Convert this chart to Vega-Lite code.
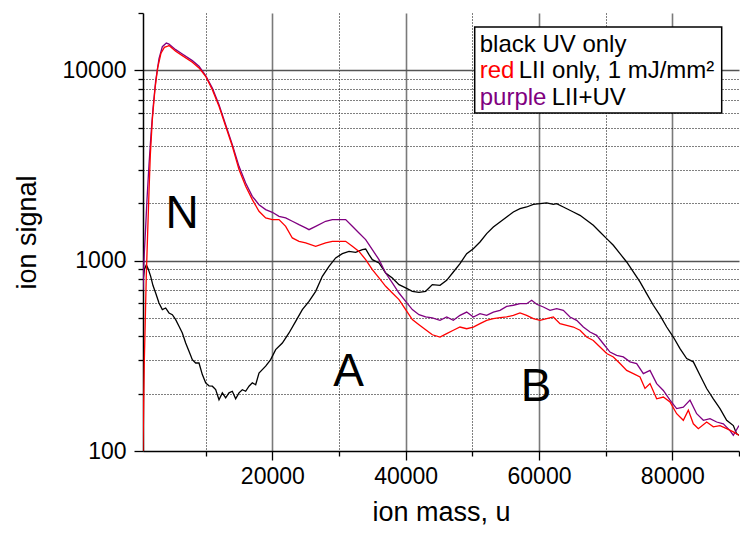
{
  "$schema": "https://vega.github.io/schema/vega-lite/v6.json",
  "width": 596,
  "height": 438,
  "autosize": {"type": "none"},
  "padding": {"left": 143, "top": 13, "right": 1, "bottom": 83},
  "background": "white",
  "config": {
    "view": {"stroke": null},
    "font": "Liberation Sans",
    "text": {"font": "Liberation Sans", "color": "#000"}
  },
  "datasets": {
    "uv": [
      {"m": 600, "s": 780}, {"m": 800, "s": 900}, {"m": 1100, "s": 950}, {"m": 1400, "s": 900},
      {"m": 1750, "s": 827}, {"m": 2100, "s": 740}, {"m": 2500, "s": 676}, {"m": 3000, "s": 599},
      {"m": 3500, "s": 553}, {"m": 4000, "s": 564}, {"m": 4500, "s": 531}, {"m": 5000, "s": 520},
      {"m": 5500, "s": 490}, {"m": 6000, "s": 452}, {"m": 6500, "s": 417}, {"m": 7000, "s": 369},
      {"m": 7500, "s": 334}, {"m": 8000, "s": 302}, {"m": 8500, "s": 290}, {"m": 9000, "s": 290},
      {"m": 9500, "s": 252}, {"m": 10000, "s": 228}, {"m": 10500, "s": 220}, {"m": 11000, "s": 219},
      {"m": 11500, "s": 210}, {"m": 12000, "s": 186}, {"m": 12500, "s": 202}, {"m": 13000, "s": 190},
      {"m": 13500, "s": 202}, {"m": 14000, "s": 206}, {"m": 14500, "s": 188}, {"m": 15000, "s": 202},
      {"m": 15500, "s": 210}, {"m": 16000, "s": 206}, {"m": 16500, "s": 219}, {"m": 17000, "s": 228},
      {"m": 17500, "s": 223}, {"m": 18000, "s": 257}, {"m": 19000, "s": 279}, {"m": 19750, "s": 302},
      {"m": 20500, "s": 341}, {"m": 21500, "s": 369}, {"m": 22500, "s": 417}, {"m": 23500, "s": 480},
      {"m": 24500, "s": 553}, {"m": 25500, "s": 611}, {"m": 26500, "s": 690}, {"m": 27500, "s": 827},
      {"m": 28500, "s": 934}, {"m": 29500, "s": 1033}, {"m": 30500, "s": 1089}, {"m": 31500, "s": 1119},
      {"m": 32500, "s": 1106}, {"m": 33500, "s": 1142}, {"m": 34000, "s": 1151}, {"m": 34500, "s": 1075},
      {"m": 35000, "s": 1012}, {"m": 36000, "s": 972}, {"m": 37000, "s": 861}, {"m": 38000, "s": 811},
      {"m": 39000, "s": 748}, {"m": 40000, "s": 719}, {"m": 41000, "s": 690}, {"m": 42000, "s": 682},
      {"m": 43000, "s": 690}, {"m": 44000, "s": 748}, {"m": 45150, "s": 742}, {"m": 46150, "s": 788},
      {"m": 47150, "s": 872}, {"m": 48150, "s": 964}, {"m": 49150, "s": 1088}, {"m": 50150, "s": 1156},
      {"m": 51150, "s": 1253}, {"m": 52150, "s": 1387}, {"m": 53150, "s": 1503}, {"m": 54150, "s": 1597},
      {"m": 55150, "s": 1696}, {"m": 56150, "s": 1802}, {"m": 57150, "s": 1876}, {"m": 58150, "s": 1914},
      {"m": 59150, "s": 1977}, {"m": 60150, "s": 1993}, {"m": 61150, "s": 2009}, {"m": 62150, "s": 1977},
      {"m": 62650, "s": 1993}, {"m": 63650, "s": 1914}, {"m": 65150, "s": 1802}, {"m": 66150, "s": 1730},
      {"m": 67150, "s": 1630}, {"m": 68150, "s": 1533}, {"m": 69150, "s": 1415}, {"m": 70150, "s": 1305},
      {"m": 71150, "s": 1204}, {"m": 72150, "s": 1088}, {"m": 73150, "s": 984}, {"m": 74150, "s": 872},
      {"m": 75150, "s": 773}, {"m": 76150, "s": 671}, {"m": 77150, "s": 583}, {"m": 78150, "s": 516},
      {"m": 79150, "s": 448}, {"m": 80150, "s": 397}, {"m": 81150, "s": 345}, {"m": 82150, "s": 306},
      {"m": 83150, "s": 294}, {"m": 84150, "s": 250}, {"m": 85150, "s": 213}, {"m": 86150, "s": 188},
      {"m": 87150, "s": 167}, {"m": 88150, "s": 145}, {"m": 89150, "s": 136}, {"m": 89650, "s": 123},
      {"m": 90000, "s": 121}
    ],
    "lii": [
      {"m": 600, "s": 100}, {"m": 700, "s": 180}, {"m": 800, "s": 300}, {"m": 900, "s": 420},
      {"m": 1000, "s": 600}, {"m": 1100, "s": 850}, {"m": 1300, "s": 1400}, {"m": 1500, "s": 2300},
      {"m": 1700, "s": 3600}, {"m": 2000, "s": 5500}, {"m": 2400, "s": 8000}, {"m": 2800, "s": 10300},
      {"m": 3300, "s": 12300}, {"m": 3800, "s": 13200}, {"m": 4300, "s": 13400}, {"m": 4500, "s": 13490},
      {"m": 5500, "s": 12585}, {"m": 6500, "s": 11940}, {"m": 8000, "s": 11020}, {"m": 9000, "s": 10290},
      {"m": 10000, "s": 9300}, {"m": 11000, "s": 7910}, {"m": 12000, "s": 6470}, {"m": 13000, "s": 5080},
      {"m": 14000, "s": 3990}, {"m": 15000, "s": 3010}, {"m": 16000, "s": 2460}, {"m": 17000, "s": 2092},
      {"m": 18000, "s": 1816}, {"m": 19000, "s": 1676}, {"m": 20000, "s": 1642}, {"m": 21000, "s": 1642},
      {"m": 22000, "s": 1515}, {"m": 23000, "s": 1316}, {"m": 24000, "s": 1264}, {"m": 25000, "s": 1239},
      {"m": 26500, "s": 1189}, {"m": 28000, "s": 1239}, {"m": 29000, "s": 1264}, {"m": 30000, "s": 1264},
      {"m": 31000, "s": 1264}, {"m": 32000, "s": 1189}, {"m": 33000, "s": 1119}, {"m": 34000, "s": 1012},
      {"m": 35000, "s": 897}, {"m": 36000, "s": 811}, {"m": 37000, "s": 733}, {"m": 38000, "s": 676},
      {"m": 39000, "s": 624}, {"m": 40000, "s": 553}, {"m": 41000, "s": 490}, {"m": 42000, "s": 461},
      {"m": 43000, "s": 434}, {"m": 44000, "s": 408}, {"m": 45150, "s": 397}, {"m": 46150, "s": 414},
      {"m": 47150, "s": 431}, {"m": 48150, "s": 448}, {"m": 49150, "s": 439}, {"m": 50150, "s": 448},
      {"m": 51150, "s": 467}, {"m": 52150, "s": 486}, {"m": 53150, "s": 496}, {"m": 54150, "s": 502},
      {"m": 55150, "s": 506}, {"m": 56150, "s": 516}, {"m": 57150, "s": 531}, {"m": 58150, "s": 516},
      {"m": 59150, "s": 496}, {"m": 60150, "s": 486}, {"m": 61150, "s": 496}, {"m": 62150, "s": 506},
      {"m": 63150, "s": 467}, {"m": 64150, "s": 457}, {"m": 65150, "s": 448}, {"m": 66150, "s": 431},
      {"m": 67150, "s": 397}, {"m": 68150, "s": 381}, {"m": 69150, "s": 352}, {"m": 70150, "s": 325},
      {"m": 71150, "s": 312}, {"m": 72150, "s": 288}, {"m": 73150, "s": 265}, {"m": 74150, "s": 255},
      {"m": 75150, "s": 245}, {"m": 75900, "s": 213}, {"m": 76650, "s": 226}, {"m": 77650, "s": 188},
      {"m": 78650, "s": 192}, {"m": 79650, "s": 181}, {"m": 80650, "s": 157}, {"m": 81650, "s": 145},
      {"m": 82400, "s": 164}, {"m": 83150, "s": 139}, {"m": 83900, "s": 131}, {"m": 85150, "s": 142},
      {"m": 86150, "s": 134}, {"m": 87150, "s": 136}, {"m": 88150, "s": 131}, {"m": 89150, "s": 126},
      {"m": 90000, "s": 121}
    ],
    "liiuv": [
      {"m": 600, "s": 700}, {"m": 700, "s": 900}, {"m": 800, "s": 1100}, {"m": 1000, "s": 1500},
      {"m": 1200, "s": 2100}, {"m": 1500, "s": 3200}, {"m": 1800, "s": 4600}, {"m": 2100, "s": 6300},
      {"m": 2500, "s": 8800}, {"m": 3000, "s": 11500}, {"m": 3500, "s": 13300}, {"m": 4100, "s": 13900},
      {"m": 4500, "s": 13740}, {"m": 5500, "s": 12840}, {"m": 6500, "s": 12180}, {"m": 8000, "s": 11240},
      {"m": 9000, "s": 10500}, {"m": 10000, "s": 9380}, {"m": 11000, "s": 8070}, {"m": 12000, "s": 6600},
      {"m": 13000, "s": 5180}, {"m": 14000, "s": 4070}, {"m": 15000, "s": 3130}, {"m": 16000, "s": 2560},
      {"m": 17000, "s": 2178}, {"m": 18000, "s": 1968}, {"m": 19000, "s": 1854}, {"m": 20000, "s": 1795},
      {"m": 21000, "s": 1710}, {"m": 22000, "s": 1676}, {"m": 23000, "s": 1610}, {"m": 24000, "s": 1545},
      {"m": 25000, "s": 1486}, {"m": 25500, "s": 1455}, {"m": 26500, "s": 1515}, {"m": 28000, "s": 1610},
      {"m": 29000, "s": 1642}, {"m": 30000, "s": 1642}, {"m": 31000, "s": 1642}, {"m": 32000, "s": 1515},
      {"m": 33000, "s": 1398}, {"m": 34000, "s": 1289}, {"m": 35000, "s": 1142}, {"m": 36000, "s": 1012},
      {"m": 37000, "s": 861}, {"m": 38000, "s": 764}, {"m": 39000, "s": 676}, {"m": 40000, "s": 611},
      {"m": 41000, "s": 553}, {"m": 42000, "s": 520}, {"m": 43000, "s": 506}, {"m": 44000, "s": 500},
      {"m": 45150, "s": 486}, {"m": 46150, "s": 506}, {"m": 47150, "s": 486}, {"m": 48150, "s": 516},
      {"m": 49150, "s": 537}, {"m": 50150, "s": 506}, {"m": 51150, "s": 527}, {"m": 52150, "s": 516},
      {"m": 53150, "s": 537}, {"m": 54150, "s": 548}, {"m": 55150, "s": 575}, {"m": 56150, "s": 583},
      {"m": 57150, "s": 594}, {"m": 58150, "s": 594}, {"m": 58900, "s": 619}, {"m": 59650, "s": 590},
      {"m": 60650, "s": 571}, {"m": 61650, "s": 548}, {"m": 62650, "s": 560}, {"m": 63650, "s": 548},
      {"m": 64650, "s": 506}, {"m": 65650, "s": 486}, {"m": 66650, "s": 448}, {"m": 67650, "s": 422},
      {"m": 68650, "s": 405}, {"m": 69650, "s": 366}, {"m": 70650, "s": 331}, {"m": 71650, "s": 318},
      {"m": 72650, "s": 312}, {"m": 73650, "s": 294}, {"m": 74650, "s": 288}, {"m": 75650, "s": 255},
      {"m": 76650, "s": 265}, {"m": 77650, "s": 226}, {"m": 78650, "s": 208}, {"m": 79650, "s": 185},
      {"m": 80650, "s": 167}, {"m": 81650, "s": 170}, {"m": 82650, "s": 185}, {"m": 83650, "s": 157},
      {"m": 84650, "s": 145}, {"m": 85650, "s": 148}, {"m": 86650, "s": 142}, {"m": 87650, "s": 139},
      {"m": 88650, "s": 128}, {"m": 89150, "s": 121}, {"m": 90000, "s": 136}
    ]
  },
  "layer": [
    {
      "data": {"name": "uv"},
      "mark": {"type": "line", "color": "#000000", "strokeWidth": 1.3, "clip": true},
      "encoding": {
        "x": {
          "field": "m", "type": "quantitative",
          "scale": {"domain": [600, 90000], "nice": false, "zero": false},
          "axis": {
            "title": "ion mass, u",
            "values": [10000, 20000, 30000, 40000, 50000, 60000, 70000, 80000, 90000],
            "format": "d",
            "labelExpr": "datum.value % 20000 === 0 ? datum.label : ''",
            "labelOverlap": false,
            "labelFlush": false,
            "labelFont": "Liberation Sans", "labelFontSize": 23, "labelColor": "#000", "labelPadding": 5,
            "titleFont": "Liberation Sans", "titleFontSize": 27, "titleFontWeight": "normal", "titleColor": "#000", "titlePadding": 11,
            "domainColor": "#000", "domainWidth": 1.5,
            "tickColor": "#000", "tickWidth": 1.3,
            "tickSize": {"condition": {"test": "datum.value % 20000 === 0", "value": 9}, "value": 5},
            "grid": true,
            "gridColor": {"condition": {"test": "datum.value % 20000 === 0", "value": "#7a7a7a"}, "value": "#000000"},
            "gridDash": {"condition": {"test": "datum.value % 20000 === 0", "value": []}, "value": [1, 2]},
            "gridWidth": {"condition": {"test": "datum.value % 20000 === 0", "value": 1.6}, "value": 1},
            "gridOpacity": {"condition": {"test": "datum.value === 90000", "value": 0}, "value": 1}
          }
        },
        "y": {
          "field": "s", "type": "quantitative",
          "scale": {"type": "log", "domain": [100, 20000], "nice": false},
          "axis": {
            "title": "ion signal",
            "values": [100, 200, 300, 400, 500, 600, 700, 800, 900, 1000, 2000, 3000, 4000, 5000, 6000, 7000, 8000, 9000, 10000, 20000],
            "format": "d",
            "labelExpr": "datum.value === 100 || datum.value === 1000 || datum.value === 10000 ? datum.label : ''",
            "labelOverlap": false,
            "labelFlush": false,
            "labelFont": "Liberation Sans", "labelFontSize": 23, "labelColor": "#000", "labelPadding": 8,
            "titleFont": "Liberation Sans", "titleFontSize": 27, "titleFontWeight": "normal", "titleColor": "#000", "titlePadding": 21,
            "domainColor": "#000", "domainWidth": 1.5,
            "tickColor": "#000", "tickWidth": 1.3,
            "tickSize": {"condition": {"test": "datum.value === 100 || datum.value === 1000 || datum.value === 10000", "value": 9}, "value": 5},
            "grid": true,
            "gridColor": {"condition": {"test": "datum.value === 1000 || datum.value === 10000", "value": "#555555"}, "value": "#000000"},
            "gridDash": {"condition": {"test": "datum.value === 1000 || datum.value === 10000", "value": []}, "value": [1, 2]},
            "gridWidth": {"condition": {"test": "datum.value === 1000 || datum.value === 10000", "value": 1.5}, "value": 1},
            "gridOpacity": {"condition": {"test": "datum.value === 100 || datum.value === 20000", "value": 0}, "value": 1}
          }
        }
      }
    },
    {
      "data": {"name": "liiuv"},
      "mark": {"type": "line", "color": "#800080", "strokeWidth": 1.3, "clip": true},
      "encoding": {
        "x": {"field": "m", "type": "quantitative"},
        "y": {"field": "s", "type": "quantitative"}
      }
    },
    {
      "data": {"name": "lii"},
      "mark": {"type": "line", "color": "#ff0000", "strokeWidth": 1.3, "clip": true},
      "encoding": {
        "x": {"field": "m", "type": "quantitative"},
        "y": {"field": "s", "type": "quantitative"}
      }
    },
    {
      "data": {"values": [{"label": "N"}]},
      "mark": {"type": "text", "fontSize": 46, "align": "center", "baseline": "alphabetic"},
      "encoding": {
        "x": {"datum": 6480, "type": "quantitative"},
        "y": {"datum": 1490, "type": "quantitative"},
        "text": {"field": "label"}
      }
    },
    {
      "data": {"values": [{"label": "A"}]},
      "mark": {"type": "text", "fontSize": 46, "align": "center", "baseline": "alphabetic"},
      "encoding": {
        "x": {"datum": 31455, "type": "quantitative"},
        "y": {"datum": 219, "type": "quantitative"},
        "text": {"field": "label"}
      }
    },
    {
      "data": {"values": [{"label": "B"}]},
      "mark": {"type": "text", "fontSize": 46, "align": "center", "baseline": "alphabetic"},
      "encoding": {
        "x": {"datum": 59580, "type": "quantitative"},
        "y": {"datum": 183, "type": "quantitative"},
        "text": {"field": "label"}
      }
    },
    {
      "data": {"values": [{"box": "legend"}]},
      "mark": {"type": "rect", "fill": "white", "stroke": "#000", "strokeWidth": 1.5},
      "encoding": {
        "x": {"datum": 50355, "type": "quantitative"},
        "x2": {"datum": 87405},
        "y": {"datum": 16870, "type": "quantitative"},
        "y2": {"datum": 5970}
      }
    },
    {
      "data": {"values": [{"label": "black UV only"}]},
      "mark": {"type": "text", "fontSize": 24, "align": "left", "baseline": "alphabetic", "color": "#000"},
      "encoding": {
        "x": {"datum": 51105, "type": "quantitative"},
        "y": {"datum": 12550, "type": "quantitative"},
        "text": {"field": "label"}
      }
    },
    {
      "data": {"values": [{"label": "red"}]},
      "mark": {"type": "text", "fontSize": 24, "align": "left", "baseline": "alphabetic", "color": "#ff0000"},
      "encoding": {
        "x": {"datum": 51105, "type": "quantitative"},
        "y": {"datum": 9080, "type": "quantitative"},
        "text": {"field": "label"}
      }
    },
    {
      "data": {"values": [{"label": "LII only, 1 mJ/mm²"}]},
      "mark": {"type": "text", "fontSize": 24, "align": "left", "baseline": "alphabetic", "color": "#000", "dx": 39},
      "encoding": {
        "x": {"datum": 51105, "type": "quantitative"},
        "y": {"datum": 9080, "type": "quantitative"},
        "text": {"field": "label"}
      }
    },
    {
      "data": {"values": [{"label": "purple"}]},
      "mark": {"type": "text", "fontSize": 24, "align": "left", "baseline": "alphabetic", "color": "#800080"},
      "encoding": {
        "x": {"datum": 51105, "type": "quantitative"},
        "y": {"datum": 6580, "type": "quantitative"},
        "text": {"field": "label"}
      }
    },
    {
      "data": {"values": [{"label": "LII+UV"}]},
      "mark": {"type": "text", "fontSize": 24, "align": "left", "baseline": "alphabetic", "color": "#000", "dx": 72},
      "encoding": {
        "x": {"datum": 51105, "type": "quantitative"},
        "y": {"datum": 6580, "type": "quantitative"},
        "text": {"field": "label"}
      }
    }
  ]
}
